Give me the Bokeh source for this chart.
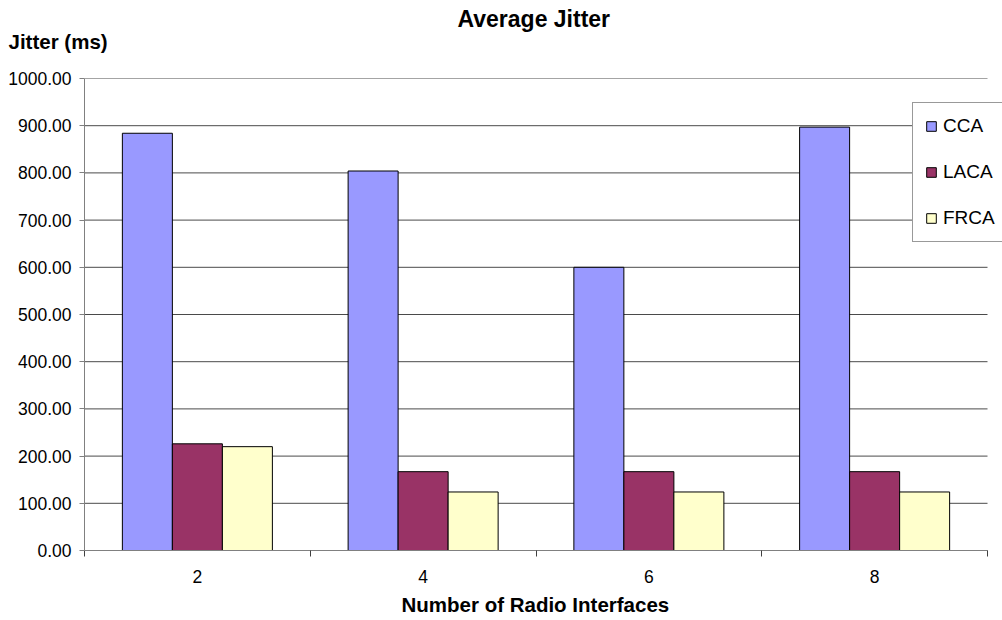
from bokeh.plotting import figure
from bokeh.models import (ColumnDataSource, FixedTicker, Legend, LegendItem, Title,
                          NumeralTickFormatter, Range1d)
from bokeh.transform import dodge
from bokeh.embed import file_html
from bokeh.resources import INLINE

# Chart data
interfaces = ["2", "4", "6", "8"]
cca = [884, 804, 600, 897]
laca = [226, 167, 167, 167]
frca = [220, 124, 124, 124]

series_names = ["CCA", "LACA", "FRCA"]
series_colors = ["#9999FF", "#993366", "#FFFFCC"]
y_ticks = list(range(0, 1001, 100))

FONT = "Liberation Sans"

# each category occupies one unit; bars sit around the unit's centre
n = len(interfaces)
centers = [i + 0.5 for i in range(n)]
boundaries = list(range(n + 1))
src = ColumnDataSource(dict(pos=centers, CCA=cca, LACA=laca, FRCA=frca))

W, H = 1002, 620
LEFT, TOP, BOTTOM = 84, 78, 70
AXIS_W = 903  # pixel width of the category axis; the frame runs on to the right edge
frame_w = W - LEFT

p = figure(width=W, height=H, output_backend="svg", toolbar_location=None,
           x_range=Range1d(0, n * frame_w / AXIS_W), y_range=Range1d(0, 1000),
           min_border_left=LEFT, min_border_right=0,
           min_border_top=TOP, min_border_bottom=BOTTOM)
p.outline_line_color = None
p.background_fill_color = "white"
p.border_fill_color = "white"

# horizontal grid lines, limited to the category axis span
p.xgrid.visible = False
p.ygrid.visible = False
p.segment(x0=0, x1=n, y0=y_ticks, y1=y_ticks, line_color="#4a4a4a", line_width=1)

bar_w = 0.2215
offsets = [-bar_w, 0.0, bar_w]
renderers = []
for name, col, off in zip(series_names, series_colors, offsets):
    r = p.vbar(x=dodge("pos", off, range=p.x_range), top=name, width=bar_w,
               source=src, fill_color=col, line_color="black", line_width=1)
    renderers.append(r)

# y axis
ya = p.yaxis[0]
ya.ticker = FixedTicker(ticks=y_ticks)
ya.formatter = NumeralTickFormatter(format="0.00")
ya.axis_line_color = "#808080"
ya.major_tick_line_color = "#808080"
ya.major_tick_out = 5
ya.major_tick_in = 0
ya.minor_tick_out = 0
ya.minor_tick_in = 0
ya.major_label_standoff = 8
ya.major_label_text_font = FONT
ya.major_label_text_font_size = "17.5px"
ya.major_label_text_color = "black"

# x axis: labels at category centres, tick marks at category boundaries
xa = p.xaxis[0]
xa.ticker = FixedTicker(ticks=centers, minor_ticks=boundaries)
xa.major_label_overrides = {c: lab for c, lab in zip(centers, interfaces)}
xa.bounds = (0, n)
xa.axis_line_color = "#808080"
xa.major_tick_out = 0
xa.major_tick_in = 0
xa.minor_tick_out = 6
xa.minor_tick_in = 0
xa.minor_tick_line_color = "#404040"
xa.major_label_standoff = 13
xa.major_label_text_font = FONT
xa.major_label_text_font_size = "17.5px"
xa.major_label_text_color = "black"

legend = Legend(
    items=[LegendItem(label=s, renderers=[r]) for s, r in zip(series_names, renderers)],
    location=(828, 308), margin=0, padding=12, spacing=24,
    glyph_width=12, glyph_height=12, label_height=22, label_standoff=6,
    label_text_font=FONT, label_text_font_size="19px", label_text_color="black",
    border_line_color="#333333", border_line_width=1,
    background_fill_color="white", background_fill_alpha=1.0,
)
p.add_layout(legend)

# x-axis caption, centred under the category axis
xlab = Title(text="Number of Radio Interfaces", align="left", offset=401 - LEFT, standoff=10,
             text_font=FONT, text_font_style="bold", text_font_size="20.5px",
             text_color="black")
p.add_layout(xlab, "below")

# y-axis caption, set horizontally above the axis
ylab = Title(text="Jitter (ms)", align="left", offset=8 - LEFT, standoff=51,
             text_font=FONT, text_font_style="bold", text_font_size="20.5px",
             text_color="black")
p.add_layout(ylab, "above")

# main title; pulled down next to the y-axis caption
p.title.text = "Average Jitter"
p.title.align = "left"
p.title.offset = 457 - LEFT
p.title.standoff = -58
p.title.text_font = FONT
p.title.text_font_style = "bold"
p.title.text_font_size = "23px"
p.title.text_color = "black"

open("out.html", "w").write(file_html(p, INLINE))
